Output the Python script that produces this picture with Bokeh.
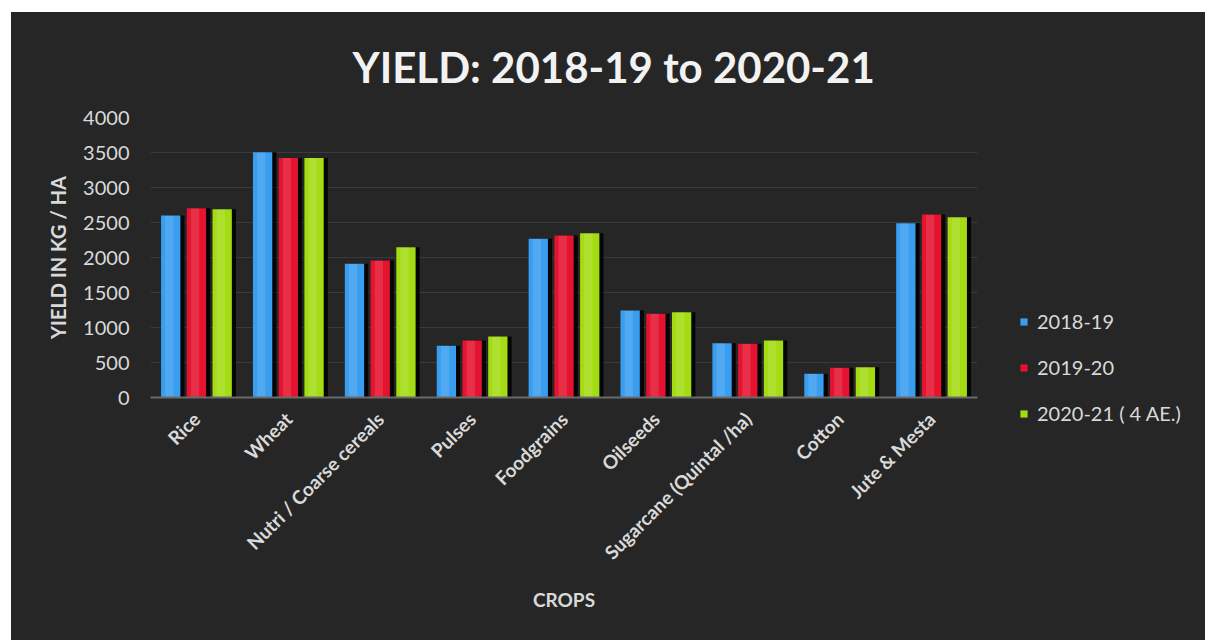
import math
from bokeh.plotting import figure
from bokeh.models import (ColumnDataSource, FactorRange, Range1d, Legend, LegendItem,
                          Title, FixedTicker)
from bokeh.transform import dodge
from bokeh.embed import file_html
from bokeh.resources import INLINE

crops = ["Rice", "Wheat", "Nutri / Coarse cereals", "Pulses", "Foodgrains",
         "Oilseeds", "Sugarcane (Quintal /ha)", "Cotton", "Jute & Mesta"]
y2018_19 = [2600, 3505, 1910, 740, 2267, 1243, 776, 340, 2490]
y2019_20 = [2705, 3420, 1957, 814, 2314, 1195, 767, 424, 2614]
y2020_21 = [2690, 3420, 2147, 871, 2347, 1219, 814, 433, 2576]
series = ["2018-19", "2019-20", "2020-21 ( 4 AE.)"]
y_ticks = [0, 500, 1000, 1500, 2000, 2500, 3000, 3500, 4000]

BG = "#262626"
COLORS = ["#3a9ef0", "#e5132f", "#a4dc14"]
FONT = "Lato"
TXT = "#d9d9d9"

src = ColumnDataSource(dict(crop=crops, a=y2018_19, b=y2019_20, c=y2020_21))

p = figure(x_range=FactorRange(*crops, range_padding=0), y_range=Range1d(0, 4000),
           frame_width=827, frame_height=280, output_backend="svg", toolbar_location=None,
           min_border_left=139, min_border_right=228, min_border_top=105,
           min_border_bottom=243, background_fill_color=BG, border_fill_color=BG)
p.margin = (12, 0, 0, 11)
p.outline_line_color = None
p.styles = {"background-color": BG}

offsets = [-0.28, 0.0, 0.28]
cols = ["a", "b", "c"]
items = []
for off, col, color, name in zip(offsets, cols, COLORS, series):
    p.vbar(x=dodge("crop", off + 0.045, range=p.x_range), top=col, width=0.21,
           source=src, fill_color="black", fill_alpha=0.85, line_color=None)
    r = p.vbar(x=dodge("crop", off, range=p.x_range), top=col, width=0.21,
               source=src, fill_color=color, line_color=None)
    p.vbar(x=dodge("crop", off - 0.015, range=p.x_range), top=col, width=0.09,
           source=src, fill_color="white", fill_alpha=0.12, line_color=None)
    items.append(LegendItem(label=name, renderers=[r]))

p.xgrid.grid_line_color = None
p.ygrid.grid_line_color = "#3a3a3a"
p.yaxis.ticker = FixedTicker(ticks=y_ticks)
p.yaxis.axis_line_color = None
p.yaxis.major_tick_line_color = None
p.yaxis.minor_tick_line_color = None
p.yaxis.major_label_text_color = TXT
p.yaxis.major_label_text_font = FONT
p.yaxis.major_label_text_font_size = "20px"
p.yaxis.major_label_standoff = 15
p.yaxis.axis_label = "YIELD IN KG / HA"
p.yaxis.axis_label_text_color = TXT
p.yaxis.axis_label_text_font = FONT
p.yaxis.axis_label_text_font_style = "bold"
p.yaxis.axis_label_text_font_size = "20px"
p.yaxis.axis_label_standoff = 10

p.xaxis.axis_line_color = "#6a6a6a"
p.xaxis.axis_line_width = 2
p.xaxis.major_tick_line_color = None
p.xaxis.minor_tick_line_color = None
p.xaxis.major_label_orientation = math.pi / 4
p.xaxis.major_label_text_color = TXT
p.xaxis.major_label_text_font = FONT
p.xaxis.major_label_text_font_style = "bold"
p.xaxis.major_label_text_font_size = "19px"
p.xaxis.major_label_standoff = 12
p.xaxis.axis_label = "CROPS"
p.xaxis.axis_label_text_color = TXT
p.xaxis.axis_label_text_font = FONT
p.xaxis.axis_label_text_font_style = "bold"
p.xaxis.axis_label_text_font_size = "19px"
p.xaxis.axis_label_standoff = 13

title = Title(text="YIELD: 2018-19 to 2020-21", align="left", offset=202,
              standoff=51, text_color="#f2f2f2", text_font=FONT,
              text_font_style="bold", text_font_size="42px")
p.add_layout(title, "above")

legend = Legend(items=items, location=(42, -28), orientation="vertical",
                background_fill_alpha=0, border_line_color=None,
                label_text_color=TXT, label_text_font=FONT,
                label_text_font_size="20px", glyph_width=9, glyph_height=9,
                spacing=22, label_standoff=9, padding=0, margin=0)
p.add_layout(legend, "right")

open("out.html", "w").write(file_html(p, INLINE))
